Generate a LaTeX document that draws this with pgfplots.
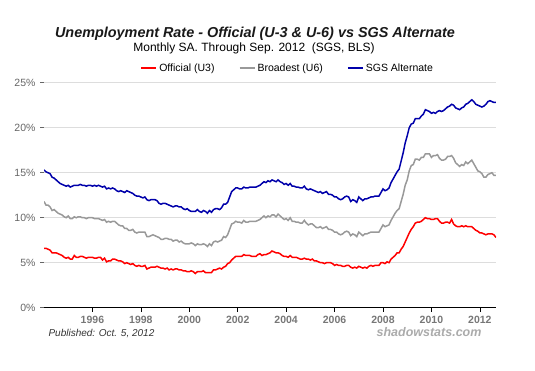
\documentclass[border=0pt]{standalone}
\usepackage{pgfplots}
\pgfplotsset{compat=1.18}
\usepackage{pgfplotstable}
\usepackage{fontspec}
\setmainfont{Liberation Sans}
\usetikzlibrary{calc}
\definecolor{uthree}{HTML}{FF0000}
\definecolor{usix}{HTML}{999999}
\definecolor{sgs}{HTML}{0000AA}
\definecolor{gridc}{HTML}{DDDDDD}
\definecolor{ticklab}{HTML}{666666}
\definecolor{xlab}{HTML}{777777}

\pgfplotstableread{
u3 u6 sgs
6.6 11.8 15.3
6.6 11.4 15.1
6.5 11.4 15.0
6.4 11.2 14.9
6.1 10.8 14.5
6.1 10.9 14.4
6.1 10.7 14.2
6.0 10.5 14.0
5.9 10.4 13.8
5.8 10.3 13.7
5.6 10.1 13.6
5.5 10.0 13.5
5.6 10.2 13.6
5.4 9.9 13.4
5.4 9.9 13.5
5.8 10.1 13.6
5.6 10.0 13.6
5.6 10.1 13.6
5.7 10.1 13.7
5.7 10.0 13.6
5.6 10.0 13.6
5.5 9.9 13.5
5.6 10.0 13.6
5.6 10.0 13.6
5.6 10.0 13.5
5.5 9.9 13.6
5.5 9.9 13.5
5.6 9.9 13.6
5.6 9.8 13.5
5.3 9.7 13.4
5.5 9.8 13.5
5.1 9.5 13.2
5.2 9.6 13.3
5.2 9.5 13.2
5.4 9.6 13.3
5.4 9.6 13.2
5.3 9.4 13.0
5.2 9.2 12.9
5.2 9.1 13.0
5.1 9.1 12.9
4.9 8.8 12.8
5.0 8.8 13.0
4.9 8.6 12.9
4.8 8.6 12.8
4.9 8.7 12.7
4.7 8.4 12.5
4.6 8.3 12.4
4.7 8.4 12.4
4.6 8.4 12.3
4.6 8.4 12.2
4.7 8.4 12.3
4.3 7.9 12.0
4.4 7.9 11.9
4.5 8.0 12.0
4.5 8.1 12.0
4.5 8.0 12.0
4.6 7.9 11.9
4.5 7.8 11.6
4.4 7.6 11.5
4.4 7.6 11.6
4.3 7.7 11.6
4.4 7.7 11.5
4.2 7.6 11.4
4.3 7.6 11.3
4.2 7.4 11.2
4.3 7.5 11.3
4.3 7.5 11.3
4.2 7.3 11.2
4.2 7.4 11.2
4.1 7.2 11.0
4.1 7.1 10.9
4.0 7.1 11.0
4.0 7.1 10.8
4.1 7.2 10.7
4.0 7.1 10.7
3.8 6.9 10.7
4.0 7.1 10.9
4.0 7.0 10.7
4.0 7.0 10.6
4.1 7.1 10.8
3.9 7.0 10.7
3.9 6.8 10.5
3.9 7.1 10.8
3.9 6.9 10.6
4.2 7.3 10.9
4.2 7.4 11.0
4.3 7.3 11.0
4.4 7.4 10.9
4.3 7.5 11.1
4.5 7.9 11.5
4.6 7.8 11.5
4.9 8.1 11.7
5.0 8.7 12.3
5.3 9.3 12.9
5.5 9.4 13.1
5.7 9.6 13.3
5.7 9.5 13.3
5.7 9.5 13.2
5.7 9.4 13.2
5.9 9.7 13.4
5.8 9.5 13.3
5.8 9.5 13.3
5.8 9.6 13.4
5.7 9.6 13.4
5.7 9.6 13.4
5.7 9.6 13.4
5.9 9.7 13.5
6.0 9.8 13.6
5.8 10.0 13.8
5.9 10.2 14.0
5.9 10.0 13.9
6.0 10.2 14.1
6.1 10.1 14.0
6.3 10.3 14.2
6.2 10.3 14.1
6.1 10.1 14.0
6.1 10.4 14.2
6.0 10.2 14.0
5.8 10.0 13.9
5.7 9.8 13.7
5.7 9.9 13.8
5.6 9.7 13.6
5.8 10.0 13.8
5.6 9.6 13.5
5.6 9.6 13.5
5.6 9.5 13.4
5.5 9.5 13.4
5.4 9.4 13.3
5.4 9.4 13.3
5.5 9.7 13.5
5.4 9.4 13.2
5.4 9.2 13.1
5.3 9.3 13.2
5.4 9.3 13.1
5.2 9.1 13.0
5.2 8.9 12.9
5.1 8.9 12.8
5.0 9.0 12.9
5.0 8.8 12.7
4.9 8.9 12.8
5.0 9.0 12.9
5.0 8.7 12.6
5.0 8.7 12.6
4.9 8.6 12.5
4.7 8.4 12.3
4.8 8.4 12.3
4.7 8.2 12.1
4.7 8.1 12.0
4.6 8.2 12.1
4.6 8.4 12.3
4.7 8.5 12.4
4.7 8.4 12.3
4.5 8.0 11.8
4.4 8.2 12.0
4.5 8.1 11.9
4.4 7.9 11.7
4.6 8.4 12.3
4.5 8.2 12.1
4.4 8.0 11.9
4.5 8.2 12.1
4.4 8.2 12.1
4.6 8.3 12.2
4.7 8.4 12.3
4.6 8.4 12.3
4.7 8.4 12.4
4.7 8.4 12.4
4.7 8.4 12.4
5.0 8.8 12.8
5.0 9.2 13.2
4.9 9.0 13.0
5.1 9.1 13.1
5.0 9.2 13.3
5.4 9.7 13.9
5.6 10.1 14.3
5.8 10.5 14.7
6.1 10.8 15.1
6.1 11.0 15.4
6.5 11.8 16.3
6.8 12.6 17.2
7.3 13.6 18.3
7.8 14.2 19.1
8.3 15.2 20.0
8.7 15.8 20.4
9.0 15.9 20.5
9.4 16.5 21.0
9.5 16.5 21.0
9.5 16.4 21.0
9.6 16.7 21.3
9.8 16.7 21.5
10.0 17.1 22.0
9.9 17.1 21.9
9.9 17.1 21.8
9.8 16.7 21.6
9.8 16.9 21.7
9.9 16.9 21.6
9.9 17.0 21.8
9.6 16.6 21.9
9.4 16.4 21.8
9.4 16.4 21.9
9.5 16.5 22.1
9.5 16.8 22.3
9.4 16.8 22.4
9.8 16.9 22.6
9.3 16.6 22.5
9.1 16.1 22.2
9.0 15.9 22.1
9.0 15.7 22.0
9.1 15.9 22.2
9.0 15.8 22.3
9.1 16.2 22.6
9.0 16.0 22.7
9.0 16.2 22.9
9.0 16.4 23.1
8.8 16.0 22.9
8.6 15.6 22.6
8.5 15.2 22.5
8.3 15.1 22.4
8.3 14.9 22.3
8.2 14.5 22.4
8.1 14.5 22.6
8.2 14.8 22.9
8.2 14.9 23.0
8.2 15.0 22.9
8.1 14.7 22.8
7.8 14.7 22.8
}\datatable

\begin{document}
\begin{tikzpicture}
\begin{axis}[
  name=ax,
  scale only axis,
  width=452bp, height=225bp,
  xmin=1994, xmax=2012.667,
  ymin=0, ymax=25,
  ytick={0,5,...,25},
  yticklabel={\pgfmathprintnumber{\tick}\%},
  xtick={1996,1998,...,2012},
  /pgf/number format/assume math mode=true,
  /pgf/number format/1000 sep={},
  axis x line*=bottom,
  axis y line*=left,
  y axis line style={draw=none},
  x axis line style={black, line width=0.9bp},
  tick align=outside,
  major tick length=4bp,
  ytick style={ticklab, line width=0.6bp},
  xtick style={black, line width=0.6bp},
  yticklabel style={font=\fontsize{10.5bp}{12bp}\selectfont, text=ticklab, xshift=-1bp},
  xticklabel style={font=\bfseries\fontsize{10.5bp}{12bp}\selectfont, text=xlab, yshift=-1bp},
  ymajorgrids,
  major grid style={gridc, line width=0.8bp},
  legend columns=3,
  legend style={draw=none, fill=none, at={(0.539,1.065)}, anchor=center,
    font=\fontsize{10.5bp}{12bp}\selectfont,
    /tikz/every even column/.append style={column sep=22bp}},
  legend image code/.code={\draw[#1, line width=2bp] (0bp,0bp) -- (15bp,0bp);},
  every axis plot/.append style={line width=1.5bp, sharp plot, no markers},
]
\addplot[uthree] table[x expr=1994+\coordindex/12, y=u3] {\datatable};
\addlegendentry{Official (U3)}
\addplot[usix] table[x expr=1994+\coordindex/12, y=u6] {\datatable};
\addlegendentry{Broadest (U6)}
\addplot[sgs] table[x expr=1994+\coordindex/12, y=sgs] {\datatable};
\addlegendentry{SGS Alternate}
\end{axis}
\node[font=\bfseries\itshape\fontsize{14.4bp}{16bp}\selectfont, text=black!90] at ($(ax.north west)+(211bp,48.7bp)$) {Unemployment Rate - Official (U-3 \& U-6) vs SGS Alternate};
\node[font=\fontsize{12bp}{14bp}\selectfont] at ($(ax.north west)+(210bp,34.2bp)$) {Monthly SA. Through Sep. 2012\ \ (SGS, BLS)};
\node[anchor=west, font=\itshape\fontsize{10bp}{12bp}\selectfont, text=black!80] at ($(ax.south west)+(1bp,-26bp)$) {Published: Oct. 5, 2012};
\node[anchor=east, font=\bfseries\itshape\fontsize{12.5bp}{14bp}\selectfont, text=black!33] at ($(ax.south east)+(-11bp,-24bp)$) {shadowstats.com};
\path[use as bounding box] ($(ax.south west)+(-44bp,-63.3bp)$) rectangle ($(ax.north east)+(39bp,82.7bp)$);
\end{tikzpicture}
\end{document}
